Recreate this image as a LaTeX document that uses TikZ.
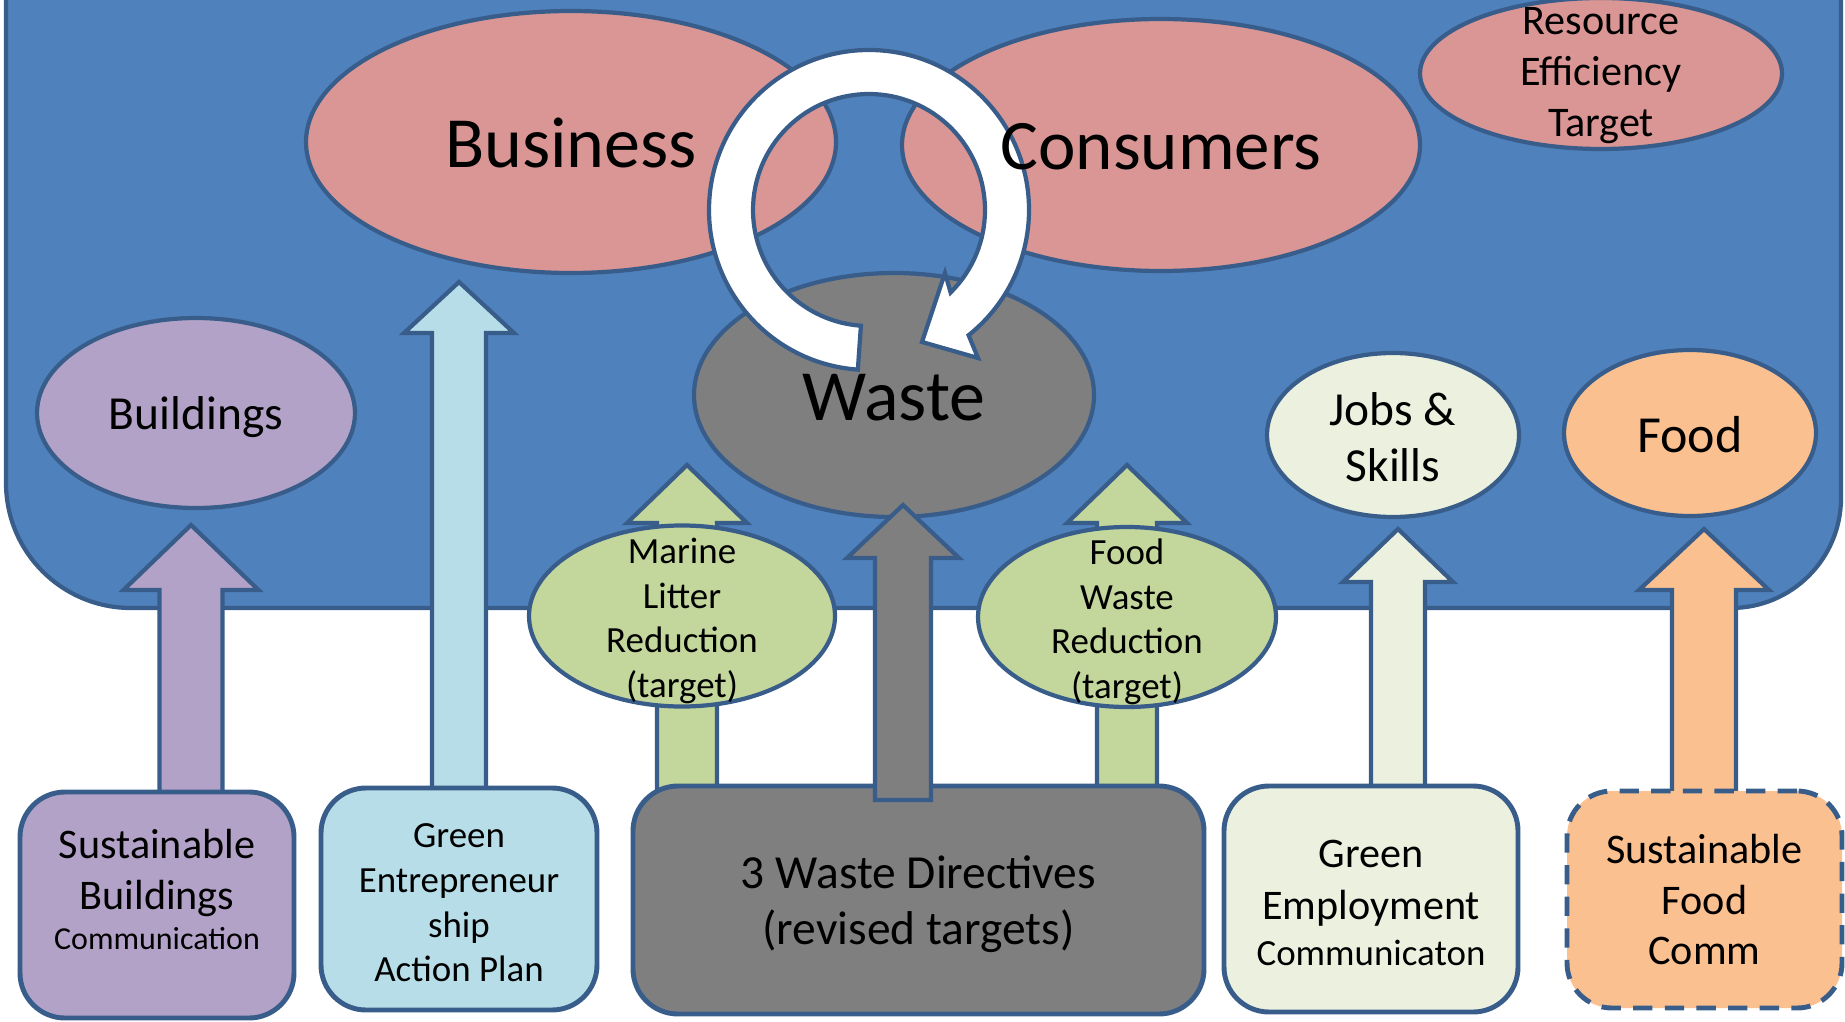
\documentclass[tikz,border=0pt]{standalone}
\usepackage{fontspec}
\setmainfont{Carlito}
\usetikzlibrary{%
  shapes.geometric,% wg. ellipse
  calc,%
  positioning%
}
\definecolor{bgblue}{HTML}{4F81BD}
\definecolor{edgeblue}{HTML}{385D8A}
\definecolor{rosefill}{HTML}{D99694}
\definecolor{wastegray}{HTML}{7F7F7F}
\definecolor{lilac}{HTML}{B3A2C7}
\definecolor{skyfill}{HTML}{B7DEE8}
\definecolor{leaffill}{HTML}{C3D69B}
\definecolor{palegreen}{HTML}{EBF1DE}
\definecolor{peachfill}{HTML}{FAC090}

% block arrow pointing up: fill, foot, tip, shaft half width, head half width, head length
\newcommand{\blockarrow}[6]{%
  \draw[fill=#1, draw=edgeblue] let \p1=(#2), \p2=(#3) in
    (\x1-#4cm,\y1) -- (\x1-#4cm,\y2-#6cm) -- (\x1-#5cm,\y2-#6cm) -- (\x1,\y2)
    -- (\x1+#5cm,\y2-#6cm) -- (\x1+#4cm,\y2-#6cm) -- (\x1+#4cm,\y1) -- cycle;}

\begin{document}
\begin{tikzpicture}
  [
  line width=1.2pt, line join=miter,
  bubble/.style={ellipse, inner sep=0pt, draw=edgeblue},
  panel/.style={rectangle, rounded corners=4.5mm, draw=edgeblue, line width=1.4pt},
  inside/.style={align=center, yshift=-0.4mm},
  hugefont/.style={font=\fontsize{20.5}{24.6}\selectfont},
  bigfont/.style={font=\fontsize{13.5}{16.1}\selectfont},
  midfont/.style={font=\fontsize{12}{14.4}\selectfont},
  smallfont/.style={font=\fontsize{10.5}{12.7}\selectfont},
  ]

  \useasboundingbox (0,0) rectangle (18.45,10.21);

  % blue field
  \draw[fill=bgblue, draw=edgeblue] (0.06,10.6) -- (0.06,5.38)
    arc[start angle=180, end angle=270, radius=1.25] -- (17.31,4.13)
    arc[start angle=270, end angle=360, radius=1.1] -- (18.41,10.6) -- cycle;

  % bubbles inside the field
  \node[bubble, fill=rosefill, minimum width=5.3cm, minimum height=2.62cm] (business) at (5.71,8.79) {};
  \node[bubble, fill=rosefill, minimum width=5.18cm, minimum height=2.52cm] (consumers) at (11.61,8.76) {};
  \node[bubble, fill=rosefill, minimum width=3.62cm, minimum height=1.51cm,
    label={[inside, font=\fontsize{12}{14.5}\selectfont, yshift=0.2mm]center:Resource\\Efficiency\\Target}] (resource) at (16.01,9.475) {};
  \node[bubble, fill=wastegray, minimum width=4cm, minimum height=2.44cm] (waste) at (8.94,6.26) {};
  \node[bubble, fill=lilac, minimum width=3.18cm, minimum height=1.9cm,
    label={[inside, bigfont]center:Buildings}] (buildings) at (1.96,6.08) {};
  \node[bubble, fill=palegreen, minimum width=2.52cm, minimum height=1.64cm,
    label={[inside, bigfont, yshift=0.2mm]center:Jobs \&\\Skills}] (jobs) at (13.93,5.86) {};
  \node[bubble, fill=peachfill, minimum width=2.52cm, minimum height=1.66cm,
    label={[inside, font=\fontsize{14.8}{17.8}\selectfont, yshift=0.2mm]center:Food}] (food) at (16.90,5.88) {};

  % cycle arrow
  \coordinate (hub) at (8.69,8.11);
  \draw[fill=white, draw=edgeblue] ([shift={(266:1.6)}]hub)
    arc[start angle=266, end angle=-51.5, radius=1.6]
    -- (9.78,6.63) -- (9.22,6.79) -- (9.45,7.48) -- ([shift={(-45.3:1.16)}]hub)
    arc[start angle=-45.3, end angle=266, radius=1.16] -- cycle;

  \node[hugefont, yshift=-0.1mm] (businessText) at (business) {Business};
  \node[font=\fontsize{20.2}{24.2}\selectfont, yshift=-0.2mm] (consumersText) at (consumers) {Consumers};
  \node[hugefont, yshift=-0.3mm] (wasteText) at (waste) {Waste};

  % up arrows
  \coordinate (buildFoot) at (1.91,2.2);   \coordinate (buildTip) at (1.91,4.96);
  \coordinate (greenFoot) at (4.59,2.2);   \coordinate (greenTip) at (4.59,7.39);
  \coordinate (marineFoot) at (6.87,2.2);  \coordinate (marineTip) at (6.87,5.56);
  \coordinate (foodWFoot) at (11.27,2.2);  \coordinate (foodWTip) at (11.27,5.56);
  \coordinate (jobsFoot) at (13.98,2.2);   \coordinate (jobsTip) at (13.98,4.92);
  \coordinate (foodFoot) at (17.04,2.2);   \coordinate (foodTip) at (17.04,4.92);
  \coordinate (wasteFoot) at (9.03,2.21);  \coordinate (wasteTip) at (9.03,5.16);

  \blockarrow{lilac}{buildFoot}{buildTip}{0.315}{0.675}{0.65}
  \blockarrow{skyfill}{greenFoot}{greenTip}{0.27}{0.55}{0.51}
  \blockarrow{leaffill}{marineFoot}{marineTip}{0.30}{0.60}{0.58}
  \blockarrow{leaffill}{foodWFoot}{foodWTip}{0.30}{0.60}{0.58}
  \blockarrow{palegreen}{jobsFoot}{jobsTip}{0.27}{0.55}{0.53}
  \blockarrow{peachfill}{foodFoot}{foodTip}{0.32}{0.65}{0.61}

  % targets
  \node[bubble, fill=leaffill, minimum width=3.06cm, minimum height=1.81cm,
    label={[inside, smallfont, yshift=-0.1mm]center:Marine\\Litter\\Reduction\\(target)}] (marine) at (6.82,4.05) {};
  \node[bubble, fill=leaffill, minimum width=2.98cm, minimum height=1.8cm,
    label={[inside, smallfont, yshift=-0.1mm]center:Food\\Waste\\Reduction\\(target)}] (foodWaste) at (11.27,4.04) {};

  % policy boxes
  \node[panel, fill=lilac, minimum width=2.74cm, minimum height=2.26cm,
    label={[inside, midfont, yshift=1.95mm]center:Sustainable\\Buildings\\[-3pt]{\fontsize{9.1}{11}\selectfont Communication}}] (buildBox) at (1.57,1.16) {};
  \node[panel, fill=skyfill, minimum width=2.76cm, minimum height=2.22cm,
    label={[inside, smallfont]center:Green\\Entrepreneur\\ship\\Action Plan}] (greenBox) at (4.59,1.22) {};
  \node[panel, fill=wastegray, minimum width=5.71cm, minimum height=2.28cm,
    label={[inside, bigfont]center:3 Waste Directives\\(revised targets)}] (directives) at (9.185,1.21) {};
  \node[panel, fill=palegreen, minimum width=2.94cm, minimum height=2.26cm,
    label={[inside, font=\fontsize{12}{14.8}\selectfont]center:Green\\Employment\\[-1.9pt]{\fontsize{10.5}{12.6}\selectfont Communicaton}}] (employBox) at (13.71,1.22) {};
  \node[panel, fill=peachfill, minimum width=2.75cm, minimum height=2.17cm, dash pattern=on 5.5pt off 3.5pt,
    label={[midfont, align=center]center:Sustainable\\Food\\Comm}] (foodBox) at (17.045,1.215) {};

  \blockarrow{wastegray}{wasteFoot}{wasteTip}{0.28}{0.56}{0.53}

\end{tikzpicture}
\end{document}
